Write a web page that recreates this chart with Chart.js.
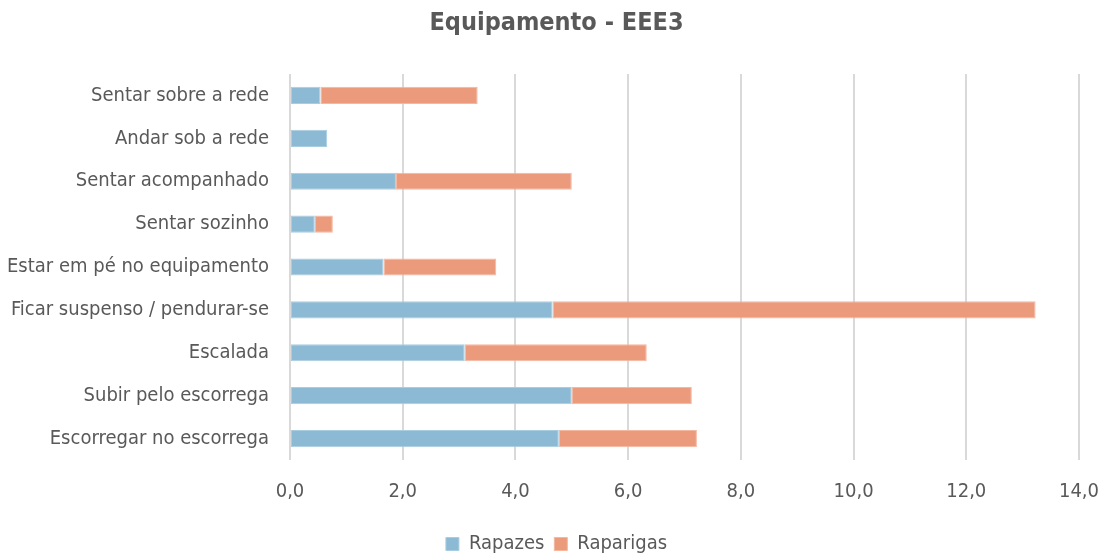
<!DOCTYPE html>
<html>
<head>
<meta charset="utf-8">
<script src="https://cdn.jsdelivr.net/npm/chart.js@4"></script>
<style>
  html, body { margin: 0; padding: 0; background: #fff; }
  #wrap { width: 1105px; height: 556px; position: relative; }
</style>
</head>
<body>
<div id="wrap"><canvas id="chart"></canvas></div>
<script>
var categories = [
    'Sentar sobre a rede',
    'Andar sob a rede',
    'Sentar acompanhado',
    'Sentar sozinho',
    'Estar em pé no equipamento',
    'Ficar suspenso / pendurar-se',
    'Escalada',
    'Subir pelo escorrega',
    'Escorregar no escorrega'
];
var rapazes = [0.54, 0.66, 1.88, 0.44, 1.66, 4.66, 3.10, 5.00, 4.77];
var raparigas = [2.79, 0, 3.12, 0.32, 2.00, 8.57, 3.23, 2.13, 2.45];
var xTicks = [0, 2, 4, 6, 8, 10, 12, 14];

(function () {
    var FONT = "'Liberation Sans Narrow', 'DejaVu Sans Condensed', 'Arial Narrow', sans-serif";
    var textColor = '#595959';

    var ctx = document.getElementById('chart').getContext('2d');
    new Chart(ctx, {
        type: 'bar',
        data: {
            labels: categories,
            datasets: [
                {
                    label: 'Rapazes',
                    data: rapazes,
                    backgroundColor: '#8cbad4',
                    borderColor: '#a9cde0',
                    borderWidth: 1,
                    borderSkipped: false
                },
                {
                    label: 'Raparigas',
                    data: raparigas,
                    backgroundColor: '#ec9a7c',
                    borderColor: '#f4b7a0',
                    borderWidth: 1,
                    borderSkipped: false
                }
            ]
        },
        options: {
            indexAxis: 'y',
            responsive: true,
            maintainAspectRatio: false,
            animation: false,
            barPercentage: 0.4,
            categoryPercentage: 1,
            layout: { padding: { left: 8, right: 0, top: 0, bottom: -8 } },
            plugins: {
                title: {
                    display: true,
                    text: 'Equipamento - EEE3',
                    color: textColor,
                    font: { family: FONT, size: 25, weight: 'bold' },
                    padding: { top: 8, bottom: 36 }
                },
                legend: {
                    position: 'bottom',
                    labels: {
                        color: textColor,
                        font: { family: FONT, size: 20 },
                        boxWidth: 13,
                        boxHeight: 13,
                        padding: 10
                    }
                },
                tooltip: { enabled: false }
            },
            scales: {
                x: {
                    stacked: true,
                    min: 0,
                    max: 14,
                    afterBuildTicks: function (axis) {
                        axis.ticks = xTicks.map(function (v) { return { value: v }; });
                    },
                    afterFit: function (axis) {
                        axis.paddingLeft = 0;
                        axis.paddingRight = 26;
                    },
                    ticks: {
                        color: textColor,
                        font: { family: FONT, size: 20 },
                        padding: 20,
                        callback: function (value) {
                            return value.toFixed(1).replace('.', ',');
                        }
                    },
                    grid: { color: '#d9d9d9', lineWidth: 2, drawTicks: false },
                    border: { display: false }
                },
                y: {
                    stacked: true,
                    afterFit: function (axis) {
                        axis.width = 282;
                    },
                    ticks: {
                        color: textColor,
                        font: { family: FONT, size: 20 },
                        padding: 21
                    },
                    grid: { display: false, drawTicks: false },
                    border: { display: false }
                }
            }
        }
    });
})();
</script>
</body>
</html>
